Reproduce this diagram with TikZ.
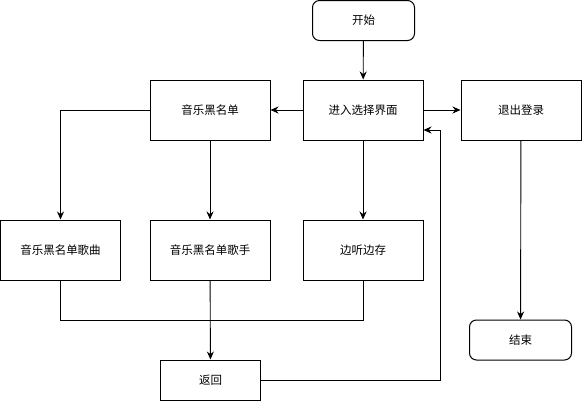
\documentclass[tikz,border=0pt]{standalone}
\usepackage{fontspec}
\newfontfamily\cjk{Noto Sans CJK SC}
\usetikzlibrary{arrows.meta}
\begin{document}
\begin{tikzpicture}[x=1pt,y=-1pt,
  box/.style={draw,line width=1pt,minimum width=120pt,minimum height=60pt,inner sep=0pt,font=\cjk\fontsize{11.5}{13}\selectfont},
  term/.style={box,rounded corners=7pt,minimum width=102pt,minimum height=40pt},
  ret/.style={box,minimum width=100pt,minimum height=40pt},
  conn/.style={line width=0.9pt,-{Stealth[length=8pt,width=7pt]}},
  plain/.style={line width=0.9pt}]
\useasboundingbox (0,0) rectangle (582,402);
\node[term] (start) at (363.5,20.5) {开始};
\node[box] (enter) at (363,110) {进入选择界面};
\node[box] (black) at (210,110) {音乐黑名单};
\node[box] (logout) at (521,110) {退出登录};
\node[box] (songs) at (60.5,250) {音乐黑名单歌曲};
\node[box] (singers) at (210,250) {音乐黑名单歌手};
\node[box] (listen) at (363,250) {边听边存};
\node[ret] (back) at (210.5,380) {返回};
\node[term] (end) at (520.5,340) {结束};
\coordinate (m) at (210,320);
\coordinate (r1) at (440,380);
\coordinate (r2) at (440,130);
\draw[conn] (start) -- (enter);
\draw[conn] (enter) -- (black);
\draw[conn] (enter) -- (logout);
\draw[conn] (black.west) -| (songs.north);
\draw[conn] (black) -- (singers);
\draw[conn] (enter) -- (listen);
\draw[conn] (logout) -- (end);
\draw[plain] (songs.south) |- (m);
\draw[plain] (listen.south) |- (m);
\draw[conn] (singers) -- (back);
\draw[conn] (back.east) -- (r1) -- (r2) -- (r2 -| enter.east);
\end{tikzpicture}
\end{document}
